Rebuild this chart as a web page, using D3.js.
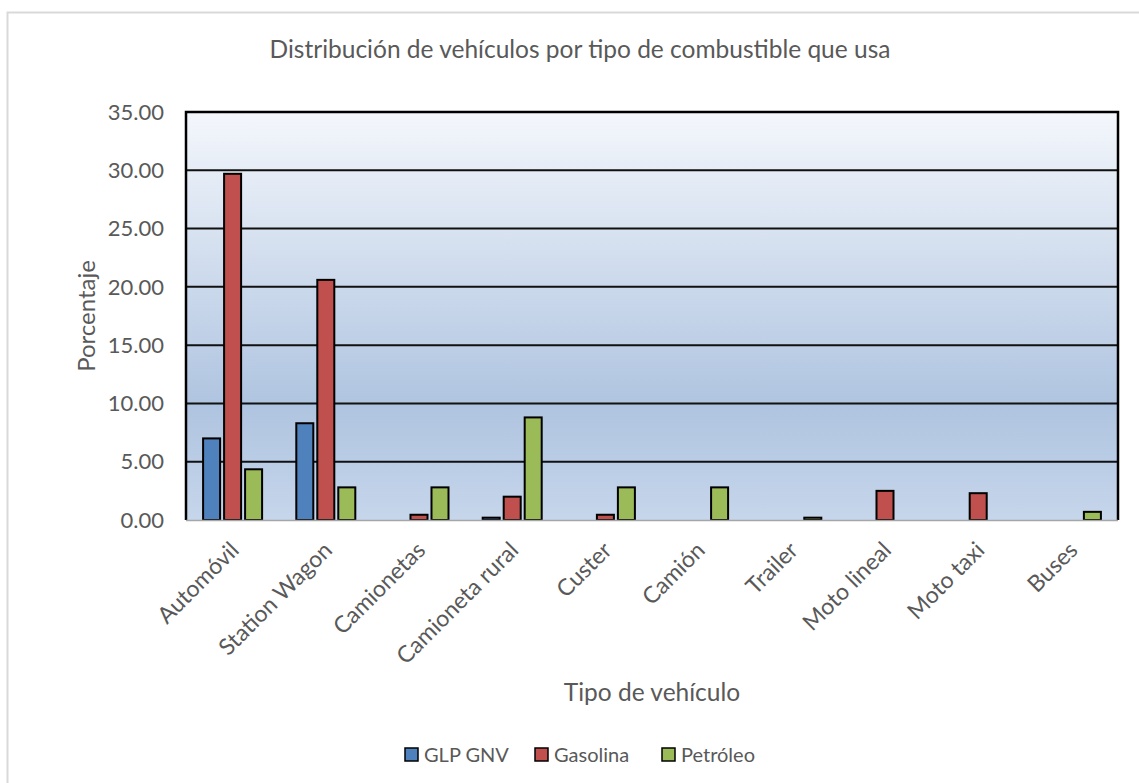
<!DOCTYPE html>
<html>
<head>
<meta charset="utf-8">
<script src="https://cdn.jsdelivr.net/npm/d3@7"></script>
<style>
  html, body { margin: 0; padding: 0; background: #fff; }
  svg { display: block; }
  text { font-family: Lato, "Open Sans", sans-serif; fill: #595959; }
</style>
</head>
<body>
<svg id="chart" width="1139" height="783"></svg>
<script>
// Vehicle categories and percentage share per fuel type
const categories = ["Automóvil", "Station Wagon", "Camionetas", "Camioneta rural", "Custer",
                    "Camión", "Trailer", "Moto lineal", "Moto taxi", "Buses"];
const seriesNames = ["GLP GNV", "Gasolina", "Petróleo"];
const glpGnv   = [7.0, 8.3, 0, 0.2, 0, 0, 0, 0, 0, 0];
const gasolina = [29.7, 20.6, 0.45, 2.0, 0.45, 0, 0, 2.5, 2.3, 0];
const petroleo = [4.35, 2.8, 2.8, 8.8, 2.8, 2.8, 0.2, 0, 0, 0.7];
const yTicks = [0, 5, 10, 15, 20, 25, 30, 35];
const colors = ["#4f81bd", "#c0504d", "#9bbb59"];

const seriesValues = [glpGnv, gasolina, petroleo];

const svg = d3.select("#chart");
const plot = { left: 186, top: 112, right: 1118, bottom: 520 };

// Outer chart frame
svg.append("rect")
  .attr("x", 7.5).attr("y", 12.5)
  .attr("width", 1140).attr("height", 780)
  .attr("fill", "#fff").attr("stroke", "#d9d9d9").attr("stroke-width", 2);

// Plot area gradient
const defs = svg.append("defs");
const grad = defs.append("linearGradient").attr("id", "bg")
  .attr("x1", 0).attr("y1", 0).attr("x2", 0).attr("y2", 1);
grad.append("stop").attr("offset", "0%").attr("stop-color", "#f4f7fc");
grad.append("stop").attr("offset", "72%").attr("stop-color", "#afc4e0");
grad.append("stop").attr("offset", "100%").attr("stop-color", "#c6d6eb");

const x0 = d3.scaleBand().domain(categories).range([plot.left, plot.right]).padding(0);
const x1 = d3.scaleBand().domain(seriesNames).range([-29.5, 29.5]).paddingInner(0.19);
const y = d3.scaleLinear().domain([0, 35]).range([plot.bottom, plot.top]);

svg.append("rect")
  .attr("x", plot.left).attr("y", plot.top)
  .attr("width", plot.right - plot.left).attr("height", plot.bottom - plot.top)
  .attr("fill", "url(#bg)");

// Horizontal gridlines
svg.append("g").selectAll("line")
  .data(yTicks.filter(t => t > 0 && t < 35))
  .join("line")
  .attr("x1", plot.left).attr("x2", plot.right)
  .attr("y1", d => y(d)).attr("y2", d => y(d))
  .attr("stroke", "#111").attr("stroke-width", 2);

// Plot area border (top, left, right)
svg.append("path")
  .attr("d", `M${plot.left},${plot.bottom}V${plot.top}H${plot.right}V${plot.bottom}`)
  .attr("fill", "none").attr("stroke", "#000").attr("stroke-width", 2.5);

// Bars
const barData = [];
categories.forEach((c, i) => {
  seriesNames.forEach((s, j) => {
    const v = seriesValues[j][i];
    if (v > 0) barData.push({ c, s, v, j });
  });
});
svg.append("g").selectAll("rect")
  .data(barData)
  .join("rect")
  .attr("x", d => x0(d.c) + x0.bandwidth() / 2 + x1(d.s))
  .attr("y", d => y(d.v))
  .attr("width", x1.bandwidth())
  .attr("height", d => y(0) - y(d.v))
  .attr("fill", d => colors[d.j])
  .attr("stroke", "#000").attr("stroke-width", 2);

// Category axis line
svg.append("line")
  .attr("x1", plot.left).attr("x2", plot.right)
  .attr("y1", plot.bottom + 0.5).attr("y2", plot.bottom + 0.5)
  .attr("stroke", "#a6a6a6").attr("stroke-width", 1.5);

// Value axis labels
svg.append("g").selectAll("text")
  .data(yTicks)
  .join("text")
  .attr("x", 164).attr("y", d => y(d))
  .attr("dy", "0.35em")
  .attr("text-anchor", "end")
  .style("font-size", "22px")
  .text(d => d3.format(".2f")(d));

// Category labels, rotated
svg.append("g").selectAll("text")
  .data(categories)
  .join("text")
  .attr("transform", d => `translate(${x0(d) + x0.bandwidth() / 2 + 2},${plot.bottom + 26}) rotate(-45)`)
  .attr("text-anchor", "end")
  .attr("dy", "0.35em")
  .style("font-size", "23px")
  .text(d => d);

// Titles
svg.append("text")
  .attr("x", 580).attr("y", 58)
  .attr("text-anchor", "middle")
  .style("font-size", "24.5px")
  .text("Distribución de vehículos por tipo de combustible que usa");

svg.append("text")
  .attr("transform", "translate(95,316) rotate(-90)")
  .attr("text-anchor", "middle")
  .style("font-size", "24px")
  .text("Porcentaje");

svg.append("text")
  .attr("x", 652).attr("y", 701)
  .attr("text-anchor", "middle")
  .style("font-size", "24.5px")
  .text("Tipo de vehículo");

// Legend
const legendX = [405, 535, 662];
const legend = svg.append("g").selectAll("g")
  .data(seriesNames)
  .join("g")
  .attr("transform", (d, i) => `translate(${legendX[i]},754.5)`);
legend.append("rect")
  .attr("x", 0).attr("y", -6.5).attr("width", 13).attr("height", 13)
  .attr("fill", (d, i) => colors[i])
  .attr("stroke", "#000").attr("stroke-width", 1.5);
legend.append("text")
  .attr("x", 19).attr("dy", "0.36em")
  .style("font-size", "20px")
  .text(d => d);
</script>
</body>
</html>
